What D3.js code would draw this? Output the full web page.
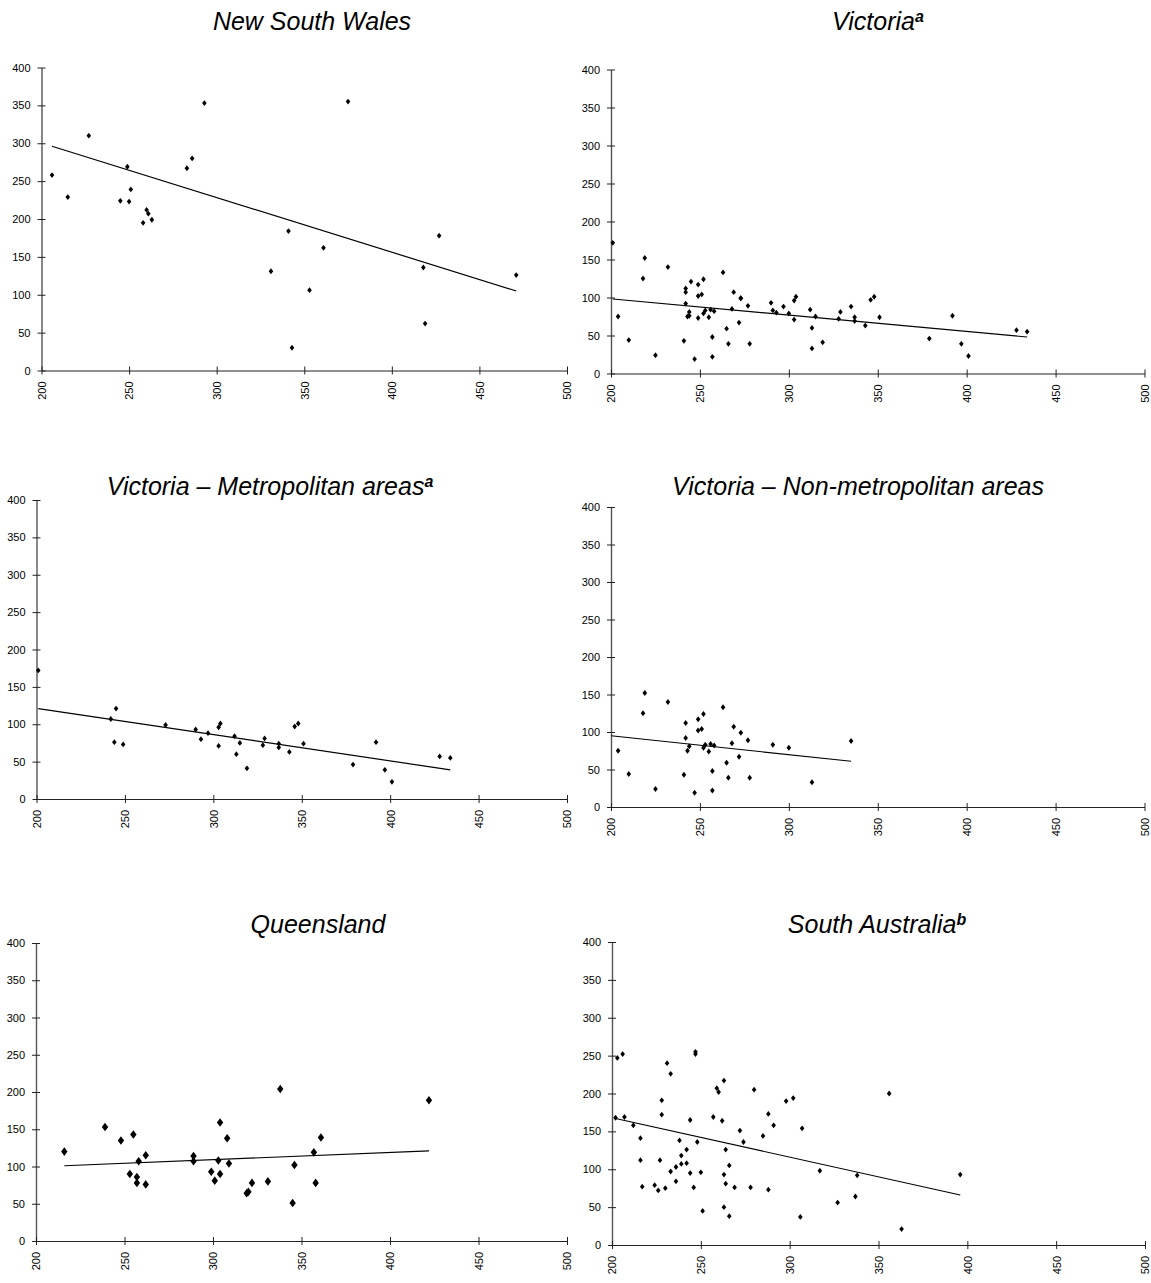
<!DOCTYPE html>
<html><head><meta charset="utf-8">
<script src="https://cdn.jsdelivr.net/npm/d3@7"></script>
<style>body{margin:0;background:#fff}text{font-family:"Liberation Sans",Arial,sans-serif}</style>
</head><body>
<svg id="c" width="1151" height="1283"></svg>
<script>
const xTicks=[200,250,300,350,400,450,500];
const yTicks=[0,50,100,150,200,250,300,350,400];

const nswX=[206,215,227,245,249,250,251,258,260,261,263,283,286,293,331,341,343,353,361,375,418,419,427,471];
const nswY=[258,229,310,224,269,223,239,195,212,207,199,267,280,353,131,184,30,106,162,355,136,62,178,126];
const nswTrendX=[206,471], nswTrendY=[296,105];

const vicX=[201,204,210,218,219,225,232,241,242,242,242,243,244,244,245,247,249,249,249,251,252,252,253,255,256,257,257,258,263,265,266,268,269,272,273,273,277,278,290,291,293,297,300,303,303,304,312,313,313,315,319,328,329,335,337,337,343,346,348,351,379,392,397,401,428,434];
const vicY=[172,75,44,125,152,24,140,43,107,92,112,75,76,81,121,19,73,102,117,104,124,79,83,74,84,48,22,82,133,59,39,85,107,67,99,99,89,39,93,83,80,88,79,71,96,101,84,60,33,75,41,72,81,88,74,69,63,97,101,74,46,76,39,23,57,55];
const vicTrendX=[201,434], vicTrendY=[98,48];

const metX=[201,242,244,245,249,273,290,293,297,303,303,304,312,313,315,319,328,329,337,337,343,346,348,351,379,392,397,401,428,434];
const metY=[172,107,76,121,73,99,93,80,88,71,96,101,84,60,75,41,72,81,74,69,63,97,101,74,46,76,39,23,57,55];
const metTrendX=[201,434], metTrendY=[121,39];

const nonX=[204,210,218,219,225,232,241,242,242,243,244,247,249,249,251,252,252,253,255,256,257,257,258,263,265,266,268,269,272,273,277,278,291,300,313,335];
const nonY=[75,44,125,152,24,140,43,92,112,75,81,19,102,117,104,124,79,83,74,84,48,22,82,133,59,39,85,107,67,99,89,39,83,79,33,88];
const nonTrendX=[200,335], nonTrendY=[95,61];

const qldX=[216,239,248,253,255,257,257,258,262,262,289,289,299,301,303,304,304,308,309,319,320,322,331,338,345,346,357,358,361,422];
const qldY=[120,153,135,90,143,86,78,107,115,76,114,107,93,81,108,90,159,138,104,64,66,78,80,204,51,102,119,78,139,189];
const qldTrendX=[216,422], qldTrendY=[101,121];

const saX=[202,203,206,207,212,216,216,217,224,226,227,228,228,230,231,233,233,236,236,238,239,239,242,242,244,244,246,247,247,248,250,251,257,259,260,262,263,263,263,264,264,266,266,269,272,274,278,280,285,288,288,291,298,302,306,307,317,327,337,338,356,363,396];
const saY=[168,247,252,169,158,141,112,77,79,72,112,172,191,75,240,97,226,103,84,138,118,107,126,108,165,95,76,255,252,136,96,45,169,207,202,164,217,93,50,126,81,38,105,76,151,136,76,205,144,173,73,158,190,194,37,154,98,56,64,92,200,21,93];
const saTrendX=[202,396], saTrendY=[167,66];

const titles=["New South Wales","Victoria","Victoria \u2013 Metropolitan areas","Victoria \u2013 Non-metropolitan areas","Queensland","South Australia"];
const sups=["","a","a","","","b"];

const panels=[
 {xs:nswX,ys:nswY,tx:nswTrendX,ty:nswTrendY,l:41.5,r:567,t:67.5,b:370.5,cx:312,cy:30,hw:2.3,hh:2.9},
 {xs:vicX,ys:vicY,tx:vicTrendX,ty:vicTrendY,l:611,r:1144.5,t:69.5,b:373.5,cx:878,cy:30,hw:2.3,hh:2.9},
 {xs:metX,ys:metY,tx:metTrendX,ty:metTrendY,l:36.5,r:567,t:500,b:799,cx:270,cy:495,hw:2.3,hh:2.9},
 {xs:nonX,ys:nonY,tx:nonTrendX,ty:nonTrendY,l:611,r:1144.5,t:507,b:807,cx:858,cy:495,hw:2.3,hh:2.9},
 {xs:qldX,ys:qldY,tx:qldTrendX,ty:qldTrendY,l:36,r:567,t:943,b:1241,cx:318,cy:933,hw:3.2,hh:4.3},
 {xs:saX,ys:saY,tx:saTrendX,ty:saTrendY,l:612,r:1145,t:942,b:1245,cx:877,cy:933,hw:2.3,hh:2.9}
];

const svg=d3.select("#c");
const diamond=(hw,hh)=>({draw(ctx){ctx.moveTo(0,-hh);ctx.lineTo(hw,0);ctx.lineTo(0,hh);ctx.lineTo(-hw,0);ctx.closePath();}});

panels.forEach((p,i)=>{
  const x=d3.scaleLinear().domain([200,500]).range([p.l,p.r]);
  const y=d3.scaleLinear().domain([0,400]).range([p.b,p.t]);
  const g=svg.append("g");

  const ya=g.append("g").attr("transform",`translate(${p.l},0)`)
    .call(d3.axisLeft(y).tickValues(yTicks).tickSizeInner(4).tickSizeOuter(0).tickPadding(7));
  ya.select(".domain").attr("stroke","#555").attr("stroke-width",1.4);
  ya.selectAll(".tick line").attr("x1",4).attr("stroke","#222");
  ya.selectAll("text").attr("font-size",11).attr("fill","#000").attr("font-family","Liberation Sans, Arial, sans-serif");

  const xa=g.append("g").attr("transform",`translate(0,${p.b})`)
    .call(d3.axisBottom(x).tickValues(xTicks).tickSizeInner(4).tickSizeOuter(0));
  xa.select(".domain").attr("stroke","#222").attr("stroke-width",1.2);
  xa.selectAll(".tick line").attr("y1",-4).attr("stroke","#222");
  xa.selectAll("text").attr("transform","rotate(-90)").attr("x",-11).attr("y",0).attr("dy","0.35em")
    .attr("text-anchor","end").attr("font-size",11).attr("fill","#000").attr("font-family","Liberation Sans, Arial, sans-serif");

  g.append("path").datum(d3.zip(p.tx,p.ty))
    .attr("d",d3.line().x(d=>x(d[0])).y(d=>y(d[1])))
    .attr("stroke","#000").attr("stroke-width",1.2).attr("fill","none");

  g.selectAll("path.pt").data(d3.zip(p.xs,p.ys)).join("path").attr("class","pt")
    .attr("d",d3.symbol().type(diamond(p.hw,p.hh)))
    .attr("transform",d=>`translate(${x(d[0])},${y(d[1])})`).attr("fill","#000");

  const t=svg.append("text").attr("x",p.cx).attr("y",p.cy).attr("text-anchor","middle")
    .attr("font-size",25).attr("font-style","italic").attr("fill","#000");
  t.append("tspan").text(titles[i]);
  if(sups[i]) t.append("tspan").attr("font-weight","bold").attr("font-size",16).attr("dy",-8).text(sups[i]);
});
</script>
</body></html>
